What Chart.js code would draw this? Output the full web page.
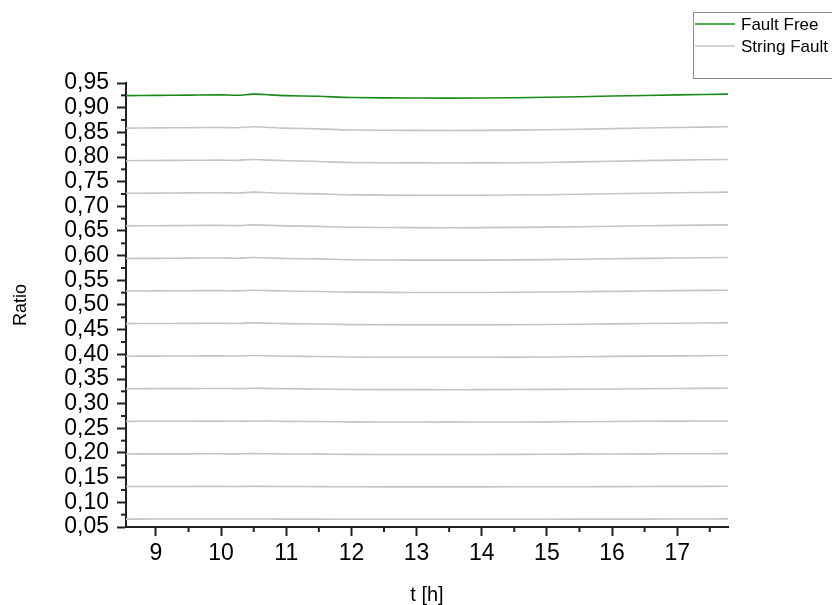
<!DOCTYPE html>
<html lang="en">
<head>
    <meta charset="UTF-8">
    <title>Ratio over time</title>
    <script src="https://cdn.jsdelivr.net/npm/chart.js@4.4.0/dist/chart.umd.min.js"></script>
    <style>
        body {
            margin: 0;
            background: #fff;
        }
        #chart {
            display: block;
        }
    </style>
</head>
<body>
    <canvas id="chart" width="832" height="605"></canvas>

    <script>
        // time in hours
        const hours = [8.54, 9, 9.5, 10, 10.25, 10.5, 10.75, 11, 11.5, 12, 13, 14, 15, 16, 17, 17.78];

        const faultFree = [0.9245, 0.925, 0.9255, 0.926, 0.9252, 0.9275, 0.926, 0.9245, 0.923, 0.9205, 0.9195, 0.9195, 0.921, 0.9235, 0.926, 0.9275];

        // string fault curves, top to bottom
        const fault13 = [0.8585, 0.859, 0.8594, 0.8599, 0.8592, 0.8612, 0.8599, 0.8585, 0.8571, 0.8548, 0.8539, 0.8539, 0.8552, 0.8575, 0.8599, 0.8612];
        const fault12 = [0.7925, 0.793, 0.7933, 0.7937, 0.7932, 0.795, 0.7937, 0.7925, 0.791, 0.789, 0.788, 0.788, 0.789, 0.7915, 0.7937, 0.795];
        const fault11 = [0.7264, 0.7268, 0.7272, 0.7276, 0.727, 0.7287, 0.7276, 0.7264, 0.7252, 0.7233, 0.7225, 0.7225, 0.7236, 0.7256, 0.7276, 0.7287];
        const fault10 = [0.6604, 0.6607, 0.6611, 0.6614, 0.6609, 0.6625, 0.6614, 0.6604, 0.6593, 0.6575, 0.6568, 0.6568, 0.6579, 0.6596, 0.6614, 0.6625];
        const fault9 = [0.5943, 0.5946, 0.595, 0.5953, 0.5948, 0.5962, 0.5953, 0.5943, 0.5934, 0.5918, 0.591, 0.591, 0.592, 0.5937, 0.5953, 0.5962];
        const fault8 = [0.5283, 0.5286, 0.5289, 0.5291, 0.5287, 0.53, 0.5291, 0.5283, 0.5274, 0.526, 0.5254, 0.5254, 0.5263, 0.5277, 0.5291, 0.53];
        const fault7 = [0.4623, 0.4625, 0.4628, 0.463, 0.4626, 0.4638, 0.463, 0.4623, 0.4615, 0.4603, 0.4598, 0.4598, 0.4605, 0.4618, 0.463, 0.4638];
        const fault6 = [0.3962, 0.3964, 0.3966, 0.3969, 0.3965, 0.3975, 0.3969, 0.3962, 0.3956, 0.3945, 0.3941, 0.3941, 0.3947, 0.3958, 0.3969, 0.3975];
        const fault5 = [0.3302, 0.3304, 0.3305, 0.3307, 0.3305, 0.3313, 0.3307, 0.3302, 0.3296, 0.3288, 0.3284, 0.3284, 0.3289, 0.3298, 0.3307, 0.3313];
        const fault4 = [0.2641, 0.2643, 0.2644, 0.2646, 0.2644, 0.265, 0.2646, 0.2641, 0.2637, 0.263, 0.2627, 0.2627, 0.2631, 0.2639, 0.2646, 0.265];
        const fault3 = [0.1981, 0.1982, 0.1983, 0.1984, 0.1983, 0.1988, 0.1984, 0.1981, 0.1978, 0.1973, 0.197, 0.197, 0.1974, 0.1979, 0.1984, 0.1988];
        const fault2 = [0.1321, 0.1321, 0.1322, 0.1323, 0.1322, 0.1325, 0.1323, 0.1321, 0.1319, 0.1315, 0.1314, 0.1314, 0.1316, 0.1319, 0.1323, 0.1325];
        const fault1 = [0.066, 0.0661, 0.0661, 0.0661, 0.0661, 0.0662, 0.0661, 0.066, 0.0659, 0.0658, 0.0657, 0.0657, 0.0658, 0.066, 0.0661, 0.0665];

        const stringFaults = [fault13, fault12, fault11, fault10, fault9, fault8, fault7, fault6, fault5, fault4, fault3, fault2, fault1];

        const xTicks = [9, 10, 11, 12, 13, 14, 15, 16, 17];
        const yTicks = [0.05, 0.10, 0.15, 0.20, 0.25, 0.30, 0.35, 0.40, 0.45, 0.50, 0.55, 0.60, 0.65, 0.70, 0.75, 0.80, 0.85, 0.90, 0.95];

        const GREEN = '#1a8a1a';
        const GREY = '#c4c4c4';
        const AXIS = '#222';
        const FONT = 'Arial, "Liberation Sans", sans-serif';

        const toPoints = ys => hours.map((h, i) => ({x: h, y: ys[i]}));

        const datasets = [{
            label: 'Fault Free',
            data: toPoints(faultFree),
            borderColor: GREEN,
            borderWidth: 1.6
        }];
        stringFaults.forEach(ys => {
            datasets.push({
                label: 'String Fault',
                data: toPoints(ys),
                borderColor: GREY,
                borderWidth: 1.6
            });
        });

        // half-step ticks between the labelled ones
        const minorTicks = {
            id: 'minorTicks',
            afterDraw(chart) {
                const ctx = chart.ctx;
                const {x, y} = chart.scales;
                ctx.save();
                ctx.strokeStyle = AXIS;
                ctx.lineWidth = 2;
                const xs = xTicks.map((v, i) => i < xTicks.length - 1 ? (v + xTicks[i + 1]) / 2 : v + 0.5);
                xs.forEach(v => {
                    if (v > x.max) return;
                    const px = x.getPixelForValue(v);
                    ctx.beginPath();
                    ctx.moveTo(px, y.bottom);
                    ctx.lineTo(px, y.bottom + 5);
                    ctx.stroke();
                });
                for (let i = 0; i < yTicks.length - 1; i++) {
                    const py = y.getPixelForValue((yTicks[i] + yTicks[i + 1]) / 2);
                    ctx.beginPath();
                    ctx.moveTo(x.left, py);
                    ctx.lineTo(x.left - 5, py);
                    ctx.stroke();
                }
                ctx.restore();
            }
        };

        // framed legend in the top right corner
        const boxLegend = {
            id: 'boxLegend',
            afterDraw(chart) {
                const ctx = chart.ctx;
                const entries = chart.data.datasets.slice(0, 2);
                ctx.save();
                ctx.strokeStyle = '#8a8a8a';
                ctx.lineWidth = 1;
                ctx.strokeRect(693.5, 12.5, 150, 66);
                ctx.font = '17px ' + FONT;
                ctx.textBaseline = 'middle';
                ctx.fillStyle = '#000';
                entries.forEach((ds, i) => {
                    const ly = 24 + i * 22;
                    ctx.strokeStyle = ds.borderColor;
                    ctx.lineWidth = 1.6;
                    ctx.beginPath();
                    ctx.moveTo(695, ly);
                    ctx.lineTo(735, ly);
                    ctx.stroke();
                    ctx.fillText(ds.label, 741, ly + 1);
                });
                ctx.restore();
            }
        };

        new Chart(document.getElementById('chart'), {
            type: 'line',
            data: {datasets: datasets},
            options: {
                responsive: false,
                animation: false,
                events: [],
                layout: {padding: {top: 83, right: 104, left: 0, bottom: 0}},
                elements: {
                    point: {radius: 0},
                    line: {tension: 0.3}
                },
                plugins: {
                    legend: {display: false},
                    tooltip: {enabled: false}
                },
                scales: {
                    x: {
                        type: 'linear',
                        min: 8.54,
                        max: 17.78,
                        afterBuildTicks: s => { s.ticks = xTicks.map(v => ({value: v})); },
                        afterFit: s => { s.height = 78; },
                        grid: {
                            drawOnChartArea: false,
                            tickLength: 9,
                            tickWidth: 2,
                            tickColor: AXIS
                        },
                        border: {display: true, width: 2, color: AXIS},
                        ticks: {
                            color: '#000',
                            font: {family: FONT, size: 23},
                            padding: 4,
                            maxRotation: 0,
                            autoSkip: false
                        },
                        title: {
                            display: true,
                            text: 't [h]',
                            color: '#000',
                            font: {family: FONT, size: 20, lineHeight: 1},
                            padding: {top: 0, bottom: 0}
                        }
                    },
                    y: {
                        min: 0.05,
                        max: 0.95,
                        afterBuildTicks: s => { s.ticks = yTicks.map(v => ({value: v})); },
                        afterFit: s => { s.width = 126; },
                        grid: {
                            drawOnChartArea: false,
                            tickLength: 9,
                            tickWidth: 2,
                            tickColor: AXIS
                        },
                        border: {display: true, width: 2, color: AXIS},
                        ticks: {
                            color: '#000',
                            font: {family: FONT, size: 23},
                            padding: 8,
                            autoSkip: false,
                            callback: v => v.toFixed(2).replace('.', ',')
                        },
                        title: {
                            display: true,
                            text: 'Ratio',
                            color: '#000',
                            font: {family: FONT, size: 18, lineHeight: 1},
                            padding: {top: 12, bottom: 0}
                        }
                    }
                }
            },
            plugins: [minorTicks, boxLegend]
        });
    </script>
</body>
</html>
